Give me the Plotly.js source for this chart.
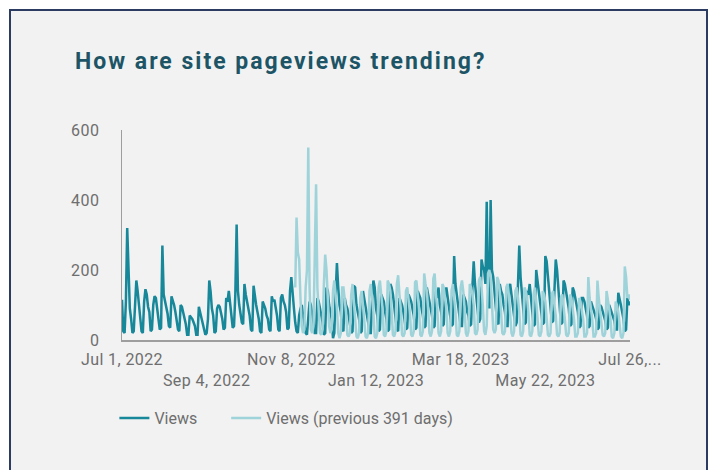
<!DOCTYPE html>
<html>
<head>
<meta charset="utf-8">
<script src="https://cdn.plot.ly/plotly-3.0.1.min.js"></script>
<style>
  html, body { margin: 0; padding: 0; background: #ffffff; width: 714px; height: 470px; overflow: hidden; }
  #frame { position: absolute; left: 9px; top: 9px; width: 699px; height: 470px; border: 2px solid #2b3b62; background: #f2f2f2; box-sizing: border-box; }
  #chart { position: absolute; left: 0; top: 0; width: 714px; height: 470px; }
  #chart .gtitle { letter-spacing: 2px; }
  #chart .xtick text, #chart .ytick text { letter-spacing: 0.4px; }
</style>
</head>
<body>
<div id="frame"></div>
<div id="chart"></div>
<script>
// Daily views, starting Fri Jul 1, 2022 (rows = 7 days)
const viewsStart = "2022-07-01";
const views = [
  115, 25, 20, 110, 320, 180, 90,
  60, 20, 25, 120, 170, 140, 100,
  70, 25, 20, 110, 145, 130, 95,
  80, 25, 30, 100, 125, 120, 90,
  70, 30, 35, 270, 130, 110, 85,
  75, 40, 35, 125, 115, 100, 80,
  60, 30, 25, 100, 95, 80, 60,
  45, 15, 15, 70, 65, 60, 50,
  40, 15, 15, 95, 80, 60, 45,
  35, 15, 20, 60, 170, 140, 90,
  70, 20, 25, 90, 100, 95, 80,
  60, 30, 35, 120, 110, 140, 100,
  80, 35, 40, 130, 330, 140, 100,
  70, 50, 45, 160, 130, 110, 90,
  70, 30, 25, 155, 120, 100, 80,
  60, 25, 20, 110, 100, 90, 70,
  60, 30, 25, 125, 110, 115, 90,
  70, 30, 25, 120, 130, 110, 100,
  80, 30, 35, 140, 180, 120, 90,
  50, 25, 20, 70, 90, 100, 70,
  50, 20, 15, 60, 110, 100, 80,
  50, 20, 20, 120, 110, 90, 70,
  50, 15, 20, 150, 140, 100, 80,
  60, 5, 20, 130, 220, 150, 100,
  80, 30, 25, 120, 100, 90, 70,
  50, 20, 25, 155, 150, 100, 80,
  60, 20, 25, 140, 120, 100, 70,
  50, 20, 20, 110, 170, 150, 90,
  70, 25, 30, 130, 120, 110, 80,
  60, 25, 30, 160, 150, 130, 90,
  70, 30, 25, 120, 110, 100, 80,
  60, 30, 35, 130, 120, 110, 90,
  70, 30, 35, 140, 130, 120, 90,
  70, 35, 40, 150, 130, 120, 95,
  70, 35, 40, 140, 120, 150, 100,
  80, 40, 45, 130, 150, 120, 90,
  70, 40, 45, 240, 160, 130, 100,
  80, 40, 40, 130, 120, 110, 80,
  70, 40, 45, 150, 225, 160, 120,
  90, 50, 60, 230, 210, 200, 160,
  395, 150, 90, 400, 200, 180, 130,
  100, 50, 45, 160, 140, 130, 100,
  80, 40, 40, 150, 160, 130, 100,
  70, 40, 50, 150, 270, 180, 120,
  90, 45, 50, 140, 130, 160, 110,
  80, 40, 45, 200, 170, 140, 110,
  90, 45, 50, 240, 225, 180, 130,
  100, 50, 55, 160, 230, 200, 140,
  100, 45, 50, 170, 160, 140, 110,
  90, 40, 45, 150, 140, 120, 100,
  80, 35, 40, 120, 120, 110, 90,
  70, 35, 40, 110, 100, 90, 75,
  60, 30, 35, 100, 95, 80, 70,
  55, 30, 35, 100, 90, 80, 65,
  55, 30, 30, 135, 120, 100, 80,
  60, 25, 30, 120, 100, 110
];

// Views of the previous 391 days, aligned to the current period; data begins Nov 11, 2022
const prevStart = "2022-11-11";
const prevViews = [
  150, 350, 250, 230, 120, 40, 20,
  30, 150, 200, 550, 150, 30, 20,
  40, 200, 445, 150, 60, 20, 15,
  30, 160, 244, 200, 120, 40, 20,
  30, 140, 170, 130, 90, 20, 5,
  20, 150, 150, 120, 80, 15, 10,
  20, 130, 160, 110, 70, 10, 5,
  20, 120, 140, 100, 60, 10, 5,
  20, 140, 160, 120, 80, 10, 5,
  20, 150, 170, 130, 90, 15, 10,
  25, 170, 160, 140, 80, 15, 10,
  25, 160, 185, 130, 90, 15, 10,
  20, 140, 150, 120, 80, 15, 10,
  25, 165, 170, 130, 90, 15, 10,
  25, 190, 160, 140, 90, 20, 10,
  25, 175, 190, 130, 90, 20, 10,
  25, 160, 150, 120, 90, 20, 10,
  25, 140, 160, 120, 80, 15, 10,
  25, 150, 170, 140, 90, 20, 10,
  25, 160, 150, 130, 100, 20, 15,
  30, 170, 180, 150, 100, 25, 15,
  40, 190, 200, 180, 120, 30, 20,
  30, 180, 170, 140, 90, 20, 15,
  25, 150, 160, 130, 80, 20, 10,
  25, 140, 150, 120, 80, 15, 10,
  25, 150, 140, 120, 80, 15, 10,
  25, 130, 150, 110, 70, 15, 10,
  25, 140, 130, 110, 70, 15, 10,
  20, 130, 140, 100, 70, 15, 10,
  20, 120, 130, 100, 60, 15, 10,
  20, 130, 120, 90, 60, 10, 10,
  20, 120, 110, 90, 60, 10, 10,
  20, 180, 120, 90, 60, 10, 10,
  20, 170, 120, 90, 60, 15, 10,
  20, 140, 120, 90, 60, 10, 5,
  20, 110, 100, 80, 50, 10, 5,
  20, 210, 180, 120, 130, 115
];

const tickDates = ["2022-07-01", "2022-09-04", "2022-11-08", "2023-01-12", "2023-03-18", "2023-05-22", "2023-07-26"];
const tickLabels = ["Jul 1, 2022", "Sep 4, 2022", "Nov 8, 2022", "Jan 12, 2023", "Mar 18, 2023", "May 22, 2023", "Jul 26,..."];
const seriesNames = ["Views", "Views (previous 391 days)"];

function dayList(start, n) {
  const out = [];
  const t0 = Date.UTC(+start.slice(0,4), +start.slice(5,7) - 1, +start.slice(8,10));
  for (let i = 0; i < n; i++) {
    out.push(new Date(t0 + i * 86400000).toISOString().slice(0, 10));
  }
  return out;
}

const traces = [
  { x: dayList(viewsStart, views.length), y: views, name: seriesNames[0], type: "scatter", mode: "lines",
    line: { color: "#17879a", width: 2.5 }, hoverinfo: "skip", legend: "legend" },
  { x: dayList(prevStart, prevViews.length), y: prevViews, name: seriesNames[1], type: "scatter", mode: "lines",
    line: { color: "#9fd3da", width: 2.5 }, hoverinfo: "skip", legend: "legend2" }
];

const legendBase = { orientation: "h", xanchor: "left", y: -0.372, yanchor: "middle",
  font: { size: 16, color: "#6e6e6e" }, bgcolor: "rgba(0,0,0,0)", itemwidth: 30 };

const layout = {
  width: 714, height: 470,
  paper_bgcolor: "rgba(0,0,0,0)", plot_bgcolor: "rgba(0,0,0,0)",
  font: { family: "Roboto, sans-serif", color: "#6e6e6e", size: 16 },
  margin: { l: 122, r: 84, t: 130, b: 130, pad: 0 },
  title: { text: "<b>How are site pageviews trending?</b>", font: { family: "Roboto, sans-serif", size: 23, color: "#1d5566" },
    x: 75 / 714, xanchor: "left", xref: "container", y: 1 - 61 / 470, yanchor: "middle", yref: "container" },
  showlegend: true,
  legend: Object.assign({}, legendBase, { x: -0.015 }),
  legend2: Object.assign({}, legendBase, { x: 0.205 }),
  xaxis: {
    type: "date", range: ["2022-07-01", "2023-07-26"], showgrid: false, zeroline: false,
    showline: true, linecolor: "#9e9e9e", linewidth: 2,
    tickmode: "array", tickvals: tickDates, tickangle: 0, ticklabelstandoff: 4,
    ticktext: tickLabels.map((t, i) => i % 2 === 1 ? "<br>" + t : t),
    ticks: "", tickfont: { size: 16, color: "#6e6e6e" }, fixedrange: true
  },
  yaxis: {
    range: [0, 600], tickvals: [0, 200, 400, 600], showgrid: false, zeroline: false,
    showline: true, linecolor: "#9e9e9e", linewidth: 1.5, ticks: "", ticklabelstandoff: 18,
    tickfont: { size: 16, color: "#6e6e6e" }, fixedrange: true
  }
};

Plotly.newPlot("chart", traces, layout, { displayModeBar: false, staticPlot: true });
</script>
</body>
</html>
